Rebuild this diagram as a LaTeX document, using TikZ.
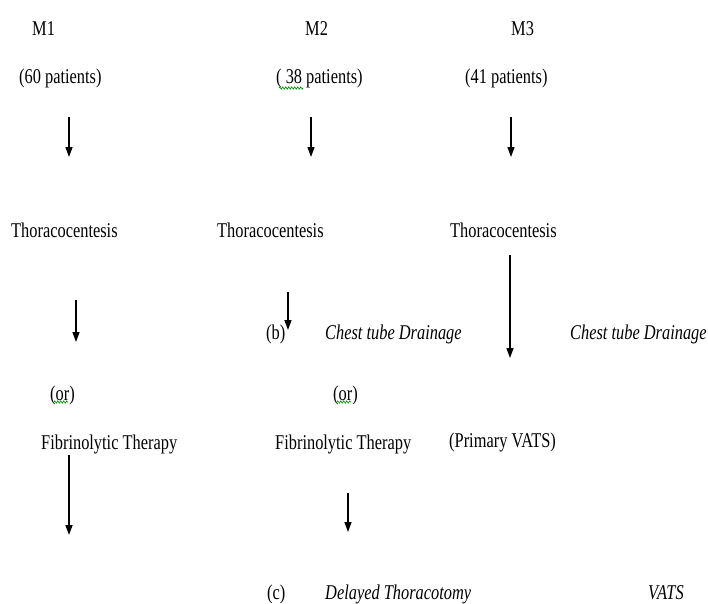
\documentclass[tikz,border=0pt]{standalone}
\usepackage{fontspec}
\setmainfont[FakeStretch=0.78]{Liberation Serif}
\usetikzlibrary{arrows.meta,decorations.pathmorphing}
\begin{document}
\begin{tikzpicture}[x=1pt,y=-1pt,
  lbl/.style={inner sep=0pt,anchor=base west,font=\fontsize{21}{25}\selectfont},
  ilbl/.style={lbl,font=\fontsize{21}{25}\selectfont\itshape},
  arr/.style={line width=1.3pt,-{Triangle[length=10pt,width=7pt]}},
  squig/.style={draw=green!60!black,line width=0.6pt,decorate,decoration={zigzag,amplitude=1.2pt,segment length=3pt}}]
\useasboundingbox (0,0) rectangle (708,603);
% top row
\node[lbl] (m1) at (32,35) {M1};
\node[lbl] (m2) at (305,35) {M2};
\node[lbl] (m3) at (511,35) {M3};
\node[lbl] (p1) at (19,83) {(60 patients)};
\node[lbl] (p2) at (276,83) {( 38 patients)};
\node[lbl] (p3) at (465,83) {(41 patients)};
\draw[squig] (279,88) -- (303,88);
% arrows to thoracocentesis
\coordinate (a1s) at (69,117); \coordinate (a1e) at (69,157);
\coordinate (a2s) at (311,117); \coordinate (a2e) at (311,157);
\coordinate (a3s) at (511,117); \coordinate (a3e) at (511,157);
\draw[arr] (a1s) -- (a1e);
\draw[arr] (a2s) -- (a2e);
\draw[arr] (a3s) -- (a3e);
% thoracocentesis
\node[lbl] (t1) at (11,237) {Thoracocentesis};
\node[lbl] (t2) at (217,237) {Thoracocentesis};
\node[lbl] (t3) at (450,237) {Thoracocentesis};
\coordinate (b1s) at (76,300); \coordinate (b1e) at (76,342);
\coordinate (b2s) at (288,292); \coordinate (b2e) at (288,330);
\coordinate (b3s) at (510,255); \coordinate (b3e) at (510,358);
\draw[arr] (b1s) -- (b1e);
\draw[arr] (b2s) -- (b2e);
\draw[arr] (b3s) -- (b3e);
% chest tube row
\node[lbl] (b) at (266,339) {(b)};
\node[ilbl] (ct1) at (325,339) {Chest tube Drainage};
\node[ilbl] (ct2) at (570,339) {Chest tube Drainage};
% or row
\node[lbl] (or1) at (50,400) {(or)};
\node[lbl] (or2) at (333,400) {(or)};
\draw[squig] (54,402) -- (68,402);
\draw[squig] (337,402) -- (351,402);
% fibrinolytic row
\node[lbl] (f1) at (41,449) {Fibrinolytic Therapy};
\node[lbl] (f2) at (275,449) {Fibrinolytic Therapy};
\node[lbl] (pv) at (449,447) {(Primary VATS)};
\coordinate (c1s) at (69,455); \coordinate (c1e) at (69,535);
\coordinate (c2s) at (348,493); \coordinate (c2e) at (348,532);
\draw[arr] (c1s) -- (c1e);
\draw[arr] (c2s) -- (c2e);
% bottom row
\node[lbl] (c) at (267,599) {(c)};
\node[ilbl] (dt) at (325,599) {Delayed Thoracotomy};
\node[ilbl] (vats) at (648,599) {VATS};
\end{tikzpicture}
\end{document}
